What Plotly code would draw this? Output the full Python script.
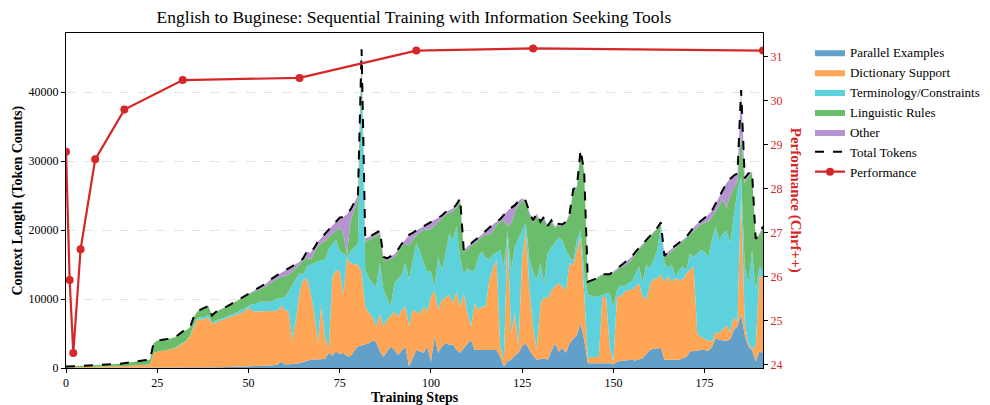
import plotly.graph_objects as go

steps = list(range(192))

parallel = [0]*40 + [
    100, 100, 100, 100, 150, 150, 150, 200, 200, 200, 200, 250, 300, 300, 350, 400, 400, 400, 500, 900,
    500, 500, 500, 600, 700, 800, 1000, 1200, 1200, 1200, 1200, 1300, 2200, 1800, 2400, 2000, 2200, 1700, 1700, 2500,
    3100, 3300,
    3400, 3600, 4000, 3800, 2400, 1600, 2400, 3100, 2600, 1900, 2500, 3100, 200, 1500, 2600, 2400, 2200, 3100,
    900, 4500, 2200, 3100, 3600, 3400, 3400, 2600, 2200, 2900, 3500, 4100, 2600, 2600, 2600, 2600, 2600, 2600,
    2600, 1600, 200, 1000, 1200, 1800, 2200, 3200, 3600, 2600, 1800, 1200, 1300, 1400, 1200, 2500, 3600, 2400,
    2900, 2200, 3600, 4200, 4800, 6500, 4100, 700, 700, 700, 700, 700, 700, 700, 500, 900, 1000, 1100,
    1200, 1200, 1100, 1300, 1400, 2000, 2600, 2800, 2900, 2900, 1200, 1200, 1200, 1200, 1200, 1400, 1600, 2400,
    2500, 2500, 2600, 2600, 2500, 3000, 4300, 4100, 4000, 3900, 4200, 5500, 6000, 7700, 4800, 3100, 2600, 900,
    2400, 2200]

dictionary = [
    60, 70, 80, 90, 100, 110, 120, 130, 140, 150, 160, 170, 180, 200, 210, 220, 250, 300, 350, 380,
    400, 420, 450, 500,
    2200, 2400, 2500, 2500, 2600, 2700, 2900, 3200, 3600, 3900, 4600, 6000, 7100, 7000, 7100, 7300,
    6300, 6500, 6700, 6800, 7000, 7200, 7400, 7500, 7800, 8000, 8600, 8000, 7900, 7900, 7850, 7800, 7800, 7800,
    7800, 8200, 7800, 7800, 3500, 6400, 10300, 12000, 12000, 9800, 6800, 2400, 8200, 3000, 700, 11400, 11800,
    12000, 8400, 14300, 13500, 12500, 11900, 10700,
    5500, 4400, 3400, 2200, 5500, 4400, 4600, 4500, 5600, 5500, 5900, 5800, 6000, 6900, 5600, 5500, 6700, 5100,
    9400, 6800, 6200, 6800, 6600, 7200, 6000, 8500, 6700, 7900, 4500, 1900, 6800, 5800, 6300, 6300, 10200, 11900,
    13100, 1500, 1000, 18300, 3800, 6200, 900, 12800, 16400, 8700, 4200, 1400, 8100, 8900, 8800, 8800, 8200, 9900,
    8900, 9100, 11600, 10700, 12200, 12500, 6700, 700, 900, 900, 900, 9600, 9600, 2300, 400, 9600, 9300, 9900,
    10100, 10100, 10700, 11000, 9000, 7900, 9400, 10100, 10100, 10600, 11300, 12100, 11300, 11800, 11600, 11400,
    12100, 11800, 12200, 2500, 1900, 1600, 1500, 800, 1000, 900, 1600, 2300, 1100, 1900, 700, 17600, 1700, 500,
    200, 2200, 10900, 11100]

terminology = [0]*24 + [
    0, 0, 0, 0, 0, 100, 100, 100, 100, 100, 100, 200, 200, 300, 300, 400,
    200, 300, 200, 300, 300, 300, 400, 400, 500, 400, 300, 1000, 1100, 1400, 1400, 1400, 1400, 1600, 1800, 1000,
    2000, 2800, 8000, 5800, 2800, 700, 1700, 4000, 7200, 11900, 6200, 11400, 14400, 4800, 4300, 3000, 6000, 200,
    1700, 2500, 3000, 29000,
    5300, 5000, 4900, 5800, 7300, 5300, 3000, 1300, 4100, 5600, 5200, 6300, 6600, 7100, 9900, 9000, 6300, 5800,
    3700, 500, 7700, 4300, 6300, 8900, 9200, 9400, 7200, 2700, 6500, 8000, 4800, 7700, 8000, 7100, 2900, 1900,
    1100, 14000, 13500, 500, 9200, 9600, 15700, 3800, 1000, 4400, 8000, 10200, 5800, 2000, 6600, 6200, 6300, 6700,
    6700, 5800, 900, 600, 1500, 1000, 3200, 9200, 8800, 8700, 8800, 300, 500, 7800, 8000, 800, 1700, 800,
    1000, 1200, 1700, 2400, 1900, 5100, 2500, 2700, 4100, 7000, 2700, 1200, 2500, 300, 1400, 1900, 500, 2400,
    1400, 11600, 12600, 12600, 12100, 14700, 15200, 13500, 13900, 13700, 12800, 14500, 19100, 2400, 8200, 8700,
    14300, 8200, 1400, 900]

linguistic = [
    140, 150, 170, 180, 200, 210, 230, 240, 260, 270, 290, 310, 320, 350, 370, 400, 450, 550, 600, 620,
    650, 680, 700, 700,
    1400, 1600, 1550, 1600, 1600, 1500, 1500, 1600, 1600, 1500, 1200, 1200, 900, 1200, 1300, 1300,
    1000, 1200, 1400, 1400, 1450, 1550, 1550, 1700, 1600, 1700, 1500, 1650, 1850, 1800, 2000, 2300, 2650, 2800,
    2900, 3100, 3000, 2400, 2000, 1700, 1100, 1900, 1300, 700, 1500, 2100, 2500, 2700, 1700, 1500, 1400, 3300,
    2900, 200, 4600, 5300, 6400, 2500,
    4100, 5500, 6600, 7400, 4200, 4500, 5500, 6900, 3800, 3800, 4000, 2800, 5000, 3000, 1100, 2800, 4800, 6100,
    6100, 8800, 5100, 7400, 5700, 3000, 4100, 2800, 8100, 3300, 2700, 3600, 3800, 2400, 2100, 3300, 3700, 3400,
    4000, 4100, 6700, 700, 6800, 5000, 4800, 4400, 2900, 6600, 7100, 9300, 5800, 9300, 3800, 3700, 2200, 1700,
    2100, 3900, 6100, 10200, 7600, 11400, 14300, 1800, 2200, 2500, 2800, 2900, 2700, 2700, 4900, 2900, 2600, 3000,
    3000, 3200, 3000, 2500, 5500, 3400, 4400, 4000, 3000, 400, 800, 2000, 1900, 4100, 3700, 3700, 4600, 2800,
    3800, 3800, 3700, 4300, 5100, 3300, 2100, 5000, 4900, 3300, 6900, 4100, 1200, 6300, 12100, 15500, 11100,
    7200, 4600, 6100]

other = [0]*40 + [
    0, 0, 0, 0, 0, 0, 0, 0, 0, 100, 100, 100, 150, 200, 300, 400, 550, 600, 500, 600,
    800, 900, 800, 600, 500, 500, 900, 1000, 700, 700, 800, 1000, 1000, 1200, 1400, 1500, 2400, 5900, 1500, 1200,
    600, 700,
    500, 500, 400, 400, 500, 300, 400, 400, 400, 400, 400, 600, 1500, 1100, 700, 500, 500, 800,
    1100, 800, 600, 500, 400, 400, 400, 400, 400, 300, 400, 400, 500, 400, 400, 500, 900, 1000,
    400, 400, 800, 2300, 2200, 1000, 600, 400, 300, 300, 300, 300, 200, 300, 200, 200, 200, 200,
    200, 200, 200, 200, 200, 200, 200, 100, 100, 100, 100, 100, 100, 100, 200, 200, 200, 400,
    400, 400, 300, 200, 200, 200, 200, 200, 200, 200, 200, 400, 400, 300, 200, 200, 200, 300,
    500, 500, 500, 600, 1000, 1000, 1200, 1500, 1500, 3600, 2400, 1900, 1200, 6300, 700, 400, 200, 200,
    200, 200]

perf_steps = [0, 1, 2, 4, 8, 16, 32, 64, 96, 128, 191]
perf_vals = [28.84, 25.93, 24.27, 26.63, 28.67, 29.80, 30.47, 30.52, 31.14, 31.19, 31.14]

series_names = ["Parallel Examples", "Dictionary Support", "Terminology/Constraints",
                "Linguistic Rules", "Other"]
series_colors = ["#62a0ca", "#ffa556", "#5dd2dd", "#6bbd6b", "#b495d1"]
series_data = [parallel, dictionary, terminology, linguistic, other]

total_tokens = [sum(v) for v in zip(*series_data)]

FONT = "Liberation Serif, Times New Roman, serif"
RED = "#d62728"

fig = go.Figure()
for name, color, vals in zip(series_names, series_colors, series_data):
    fig.add_trace(go.Scatter(
        x=steps, y=vals, name=name, mode="lines", stackgroup="ctx",
        line=dict(width=0, color=color), fillcolor=color, hoverinfo="skip"))

fig.add_trace(go.Scatter(
    x=steps, y=total_tokens, name="Total Tokens", mode="lines",
    line=dict(color="black", width=2, dash="dash")))

fig.add_trace(go.Scatter(
    x=perf_steps, y=perf_vals, name="Performance", mode="lines+markers",
    line=dict(color=RED, width=2.2), marker=dict(color=RED, size=8),
    yaxis="y2"))

# the page body adds an 8px offset, so the figure is sized to 982x397
fig.update_layout(
    width=982, height=397,
    margin=dict(l=58, r=227, t=25, b=37, autoexpand=False),
    plot_bgcolor="white", paper_bgcolor="white",
    font=dict(family=FONT, size=12, color="black"),
    title=dict(text="English to Buginese: Sequential Training with Information Seeking Tools",
               x=0.4134, xanchor="center", y=0.9773, yanchor="middle",
               font=dict(size=17.5, family=FONT)),
    xaxis=dict(range=[0, 191], tickvals=[0, 25, 50, 75, 100, 125, 150, 175],
               showgrid=False, zeroline=False, showline=True, linecolor="black",
               linewidth=1, mirror=True, ticks="outside", ticklen=4, tickcolor="black",
               tickfont=dict(size=12)),
    yaxis=dict(range=[0, 48550], tickvals=[0, 10000, 20000, 30000, 40000],
               tickformat="d", showgrid=True, gridcolor="#e3e3e3", griddash="dash",
               gridwidth=1, zeroline=False, showline=True, linecolor="black",
               linewidth=1, mirror=True, ticks="outside", ticklen=4, tickcolor="black",
               tickfont=dict(size=12)),
    yaxis2=dict(range=[23.93, 31.54], overlaying="y", side="right",
                tickvals=[24, 25, 26, 27, 28, 29, 30, 31], showgrid=False, zeroline=False,
                showline=True, linecolor="black", linewidth=1, ticks="outside",
                ticklen=4, tickcolor="black", tickfont=dict(size=12, color=RED)),
    legend=dict(x=1.0674, y=0.987, xanchor="left", yanchor="top",
                font=dict(size=13, family=FONT), bgcolor="rgba(0,0,0,0)",
                traceorder="normal", itemwidth=30),
    showlegend=True,
    annotations=[
        dict(text="<b>Context Length (Token Counts)</b>", xref="paper", yref="paper",
             x=-0.0703, y=0.5, xanchor="center", yanchor="middle", textangle=-90,
             showarrow=False, font=dict(size=14, family=FONT, color="black")),
        dict(text="<b>Performance (Chrf++)</b>", xref="paper", yref="paper",
             x=1.047, y=0.5, xanchor="center", yanchor="middle", textangle=90,
             showarrow=False, font=dict(size=15, family=FONT, color=RED)),
        dict(text="<b>Training Steps</b>", xref="paper", yref="paper",
             x=0.5, y=-0.0866, xanchor="center", yanchor="middle",
             showarrow=False, font=dict(size=14, family=FONT, color="black")),
    ],
)

fig.write_html("out.html")
